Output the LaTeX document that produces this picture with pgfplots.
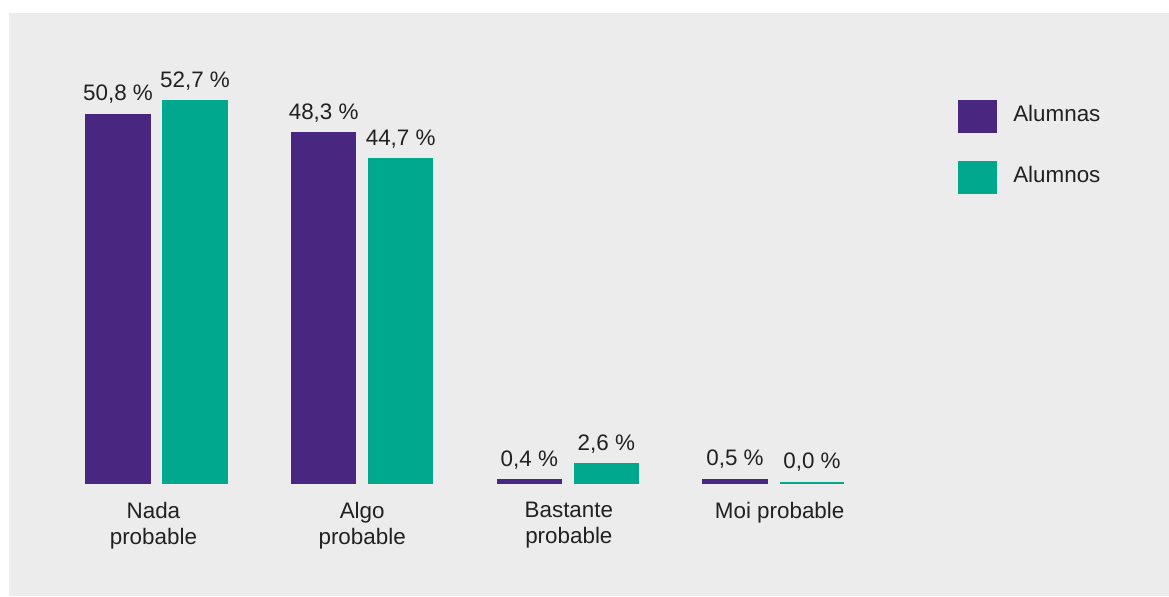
\documentclass[border=0pt]{standalone}
\usepackage{pgfplots}
\pgfplotsset{compat=1.18}
\usepackage{fontspec}
\setmainfont{Liberation Sans}
\definecolor{purp}{RGB}{73,38,128}
\definecolor{tealc}{RGB}{0,168,142}
\definecolor{bggray}{RGB}{236,236,236}
\definecolor{txt}{RGB}{33,33,33}
\begin{document}
\begin{tikzpicture}[font=\fontsize{11.2}{12.9}\selectfont, every node/.append style={text=txt}]
\useasboundingbox (-4.5pt,0pt) rectangle (580pt,298pt);
\fill[white] (-4.5pt,0pt) rectangle (580pt,298pt);
\begin{axis}[
  at={(0pt,0pt)}, anchor=south west,
  scale only axis, width=580pt, height=291.5pt,
  xmin=-0.7172, xmax=4.923, ymin=-15.597, ymax=64.87,
  axis background/.style={fill=bggray},
  axis line style={draw=none},
  xtick=\empty, ytick=\empty,
  ybar, bar width=31.9pt,
  clip=false,
  /pgf/number format/assume math mode=true,
  nodes near coords={\pgfmathprintnumber[fixed,fixed zerofill,precision=1,use comma]{\pgfplotspointmeta}~\%},
  nodes near coords style={anchor=base, yshift=7pt, inner sep=0pt, text=txt},
  legend image code/.code={\fill[#1,draw=none] (0pt,-9.15pt) rectangle (19.5pt,7.35pt);},
  legend style={at={(0.818,0.8508)}, anchor=north west, draw=none, fill=none,
    inner sep=0pt, row sep=14pt, column sep=8pt,
    nodes={inner sep=0pt, text=txt}},
  legend cell align=left,
]
\addplot[fill=purp, draw=purp, line width=0.8pt, bar shift=-19.25pt] coordinates {(0,50.8) (1,48.3) (2,0.4) (3,0.5)};
\addlegendentry{Alumnas}
\addplot[fill=tealc, draw=tealc, line width=0.8pt, bar shift=19.25pt] coordinates {(0,52.7) (1,44.7) (2,2.6) (3,0.0)};
\addlegendentry{Alumnos}
\node[anchor=north, align=center, inner sep=0pt] at (axis cs:-0.015,-2.6) {Nada\\probable};
\node[anchor=north, align=center, inner sep=0pt] at (axis cs:1,-2.6) {Algo\\probable};
\node[anchor=north, align=center, inner sep=0pt] at (axis cs:2.005,-2.6) {Bastante\\probable};
\node[anchor=north, align=center, inner sep=0pt] at (axis cs:3.03,-2.6) {Moi probable};
\end{axis}
\end{tikzpicture}
\end{document}
